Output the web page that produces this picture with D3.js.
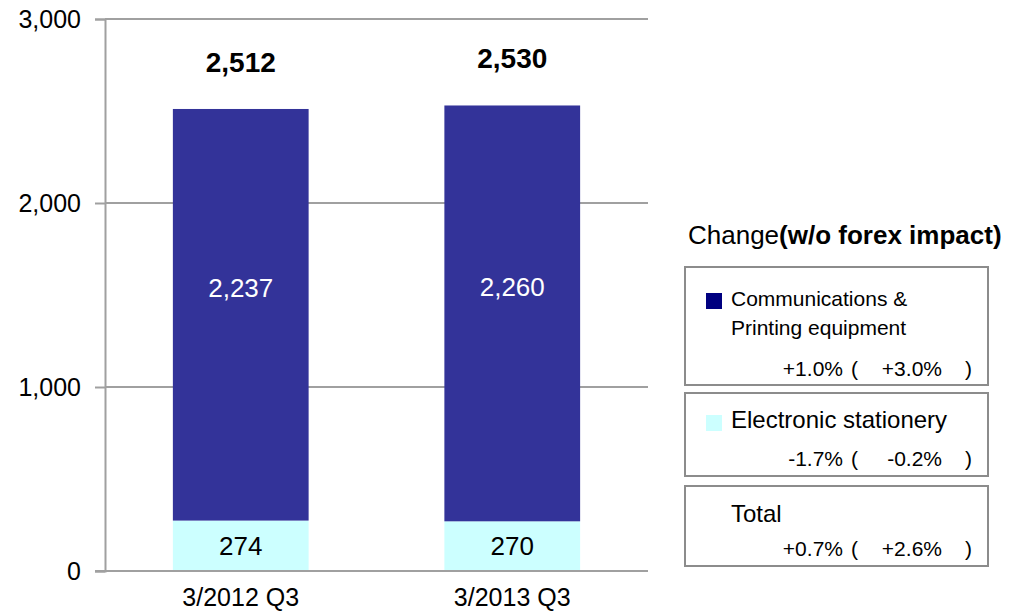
<!DOCTYPE html>
<html>
<head>
<meta charset="utf-8">
<script src="https://cdn.jsdelivr.net/npm/d3@7"></script>
<style>
  body { margin: 0; background: #fff; }
  text { font-family: "Liberation Sans", Arial, sans-serif; }
</style>
</head>
<body>
<div class="chart"></div>
<script>
// data
const categories = ["3/2012 Q3", "3/2013 Q3"];
const commValues = [2237, 2260];
const elecValues = [274, 270];
const totalLabels = [2512, 2530];
const yTicks = [0, 1000, 2000, 3000];

const legendNames = [["Communications &", "Printing equipment"], ["Electronic stationery"], ["Total"]];
const legendColors = ["#000080", "#ccffff", null];
const changeValues = ["+1.0%", "-1.7%", "+0.7%"];
const changeNoFx = ["+3.0%", "-0.2%", "+2.6%"];

const W = 1009, H = 615;
const margin = { left: 105, right: 361, top: 19, bottom: 44 };

const svg = d3.select('.chart')
              .append('svg')
              .attr('width', W)
              .attr('height', H);

const x = d3.scaleBand()
  .domain(categories)
  .range([margin.left, W - margin.right])
  .paddingInner(0.5)
  .paddingOuter(0.25);

const y = d3.scaleLinear()
  .domain([0, 3000])
  .range([H - margin.bottom, margin.top]);

const grey = "#a0a0a0";

// gridlines
svg.append("g")
  .selectAll("line")
  .data(yTicks)
  .join("line")
    .attr("x1", margin.left)
    .attr("x2", W - margin.right)
    .attr("y1", d => y(d))
    .attr("y2", d => y(d))
    .attr("stroke", grey)
    .attr("stroke-width", 2);

// y axis
const yAxis = svg.append("g")
  .attr("transform", `translate(${margin.left},0)`)
  .call(d3.axisLeft(y).tickValues(yTicks).tickFormat(d3.format(",")).tickSize(10).tickPadding(14));
yAxis.select(".domain").attr("stroke", grey).attr("stroke-width", 2);
yAxis.selectAll(".tick line").attr("stroke", grey).attr("stroke-width", 2);
yAxis.selectAll(".tick text")
  .attr("fill", "#000")
  .style("font-size", "25px")
  .style("font-family", '"Liberation Sans", Arial, sans-serif');

// stacked bars
const rows = categories.map((c, i) => ({ cat: c, elec: elecValues[i], comm: commValues[i], total: totalLabels[i] }));

svg.append("g")
  .selectAll("rect")
  .data(rows)
  .join("rect")
    .attr("x", d => x(d.cat))
    .attr("width", x.bandwidth())
    .attr("y", d => y(d.elec))
    .attr("height", d => y(0) - y(d.elec))
    .attr("fill", "#ccffff");

svg.append("g")
  .selectAll("rect")
  .data(rows)
  .join("rect")
    .attr("x", d => x(d.cat))
    .attr("width", x.bandwidth())
    .attr("y", d => y(d.elec + d.comm))
    .attr("height", d => y(d.elec) - y(d.elec + d.comm))
    .attr("fill", "#333399");

// redraw baseline over bars
svg.append("line")
  .attr("x1", margin.left - 10).attr("x2", W - margin.right)
  .attr("y1", y(0)).attr("y2", y(0))
  .attr("stroke", grey).attr("stroke-width", 2);

// segment labels
svg.append("g")
  .selectAll("text")
  .data(rows)
  .join("text")
    .attr("x", d => x(d.cat) + x.bandwidth() / 2)
    .attr("y", d => (y(0) + y(d.elec)) / 2)
    .attr("dy", "0.35em")
    .attr("text-anchor", "middle")
    .style("font-size", "26px")
    .attr("fill", "#000")
    .text(d => d3.format(",")(d.elec));

svg.append("g")
  .selectAll("text")
  .data(rows)
  .join("text")
    .attr("x", d => x(d.cat) + x.bandwidth() / 2)
    .attr("y", d => (y(d.elec) + y(d.elec + d.comm)) / 2 - 27)
    .attr("dy", "0.35em")
    .attr("text-anchor", "middle")
    .style("font-size", "26px")
    .attr("fill", "#fff")
    .text(d => d3.format(",")(d.comm));

// totals
svg.append("g")
  .selectAll("text")
  .data(rows)
  .join("text")
    .attr("x", d => x(d.cat) + x.bandwidth() / 2)
    .attr("y", d => y(d.elec + d.comm) - 37)
    .attr("text-anchor", "middle")
    .style("font-size", "28px")
    .style("font-weight", "bold")
    .attr("fill", "#000")
    .text(d => d3.format(",")(d.total));

// category labels
svg.append("g")
  .selectAll("text")
  .data(categories)
  .join("text")
    .attr("x", d => x(d) + x.bandwidth() / 2)
    .attr("y", 606)
    .attr("text-anchor", "middle")
    .style("font-size", "25px")
    .attr("fill", "#000")
    .text(d => d);

// change panel
const title = svg.append("text")
  .attr("x", 688)
  .attr("y", 244)
  .style("font-size", "26px")
  .attr("fill", "#000");
title.append("tspan").text("Change");
title.append("tspan").style("font-weight", "bold").text("(w/o forex impact)");

const boxes = [
  { y0: 267, y1: 385, nameY: 306, lineH: 29, valY: 376, nameSize: 21 },
  { y0: 393, y1: 476, nameY: 428, lineH: 0, valY: 466, nameSize: 24 },
  { y0: 486, y1: 566, nameY: 522, lineH: 0, valY: 556, nameSize: 24 }
];

const panel = svg.append("g");
boxes.forEach((b, i) => {
  const g = panel.append("g");
  g.append("rect")
    .attr("x", 685).attr("y", b.y0)
    .attr("width", 303).attr("height", b.y1 - b.y0)
    .attr("fill", "#fff")
    .attr("stroke", "#8c8c8c")
    .attr("stroke-width", 2);
  if (legendColors[i]) {
    g.append("rect")
      .attr("x", 706).attr("y", b.nameY - 13)
      .attr("width", 16).attr("height", 16)
      .attr("fill", legendColors[i]);
  }
  legendNames[i].forEach((line, j) => {
    g.append("text")
      .attr("x", 731)
      .attr("y", b.nameY + j * b.lineH)
      .style("font-size", b.nameSize + "px")
      .attr("fill", "#000")
      .text(line);
  });
  const fs = "21px";
  g.append("text").attr("x", 843).attr("y", b.valY).attr("text-anchor", "end")
    .style("font-size", fs).text(changeValues[i]);
  g.append("text").attr("x", 851).attr("y", b.valY)
    .style("font-size", fs).text("(");
  g.append("text").attr("x", 942).attr("y", b.valY).attr("text-anchor", "end")
    .style("font-size", fs).text(changeNoFx[i]);
  g.append("text").attr("x", 965).attr("y", b.valY)
    .style("font-size", fs).text(")");
});
</script>
</body>
</html>
